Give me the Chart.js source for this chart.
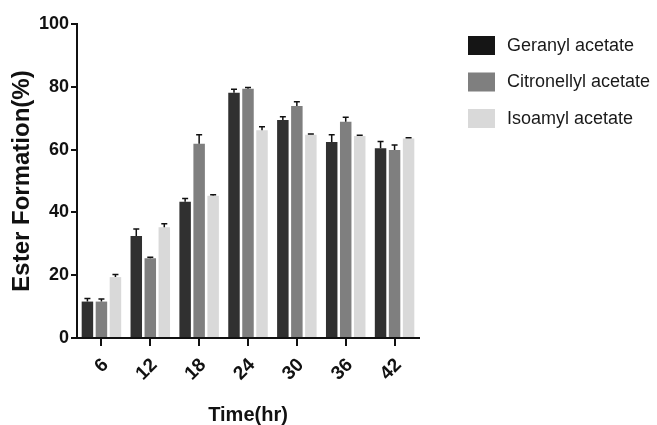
<!DOCTYPE html>
<html>
<head>
<meta charset="utf-8">
<script src="https://cdn.jsdelivr.net/npm/chart.js@4/dist/chart.umd.min.js"></script>
<style>
  html, body { margin: 0; padding: 0; background: #fff; }
  #wrap { width: 657px; height: 425px; position: relative; }
</style>
</head>
<body>
<div id="wrap"><canvas id="grafico"></canvas></div>
<script>
// dados
const tempos = ["6", "12", "18", "24", "30", "36", "42"]
const nomesSeries = ["Geranyl acetate", "Citronellyl acetate", "Isoamyl acetate"]
const geranil = [11.6, 32.5, 43.4, 78.1, 69.4, 62.4, 60.4]
const citronelil = [11.6, 25.4, 61.9, 79.4, 73.9, 68.9, 59.9]
const isoamil = [19.4, 35.3, 45.3, 66.2, 64.7, 64.3, 63.5]
const erroGeranil = [1.0, 2.2, 1.0, 1.1, 1.1, 2.3, 2.2]
const erroCitronelil = [0.8, 0.3, 2.8, 0.4, 1.3, 1.4, 1.6]
const erroIsoamil = [0.8, 1.1, 0.3, 1.1, 0.3, 0.3, 0.3]
const ticksY = [0, 20, 40, 60, 80, 100]

const cores = ["#303030", "#7f7f7f", "#d9d9d9"]
const coresLegenda = ["#151515", "#7f7f7f", "#d9d9d9"]
const erros = [erroGeranil, erroCitronelil, erroIsoamil]

const fonteNarrow = "'Liberation Sans Narrow', 'Liberation Sans', Arial, sans-serif"
const fonteNormal = "'Liberation Sans', Arial, sans-serif"

const pluginBarrasErro = {
  id: "barrasErro",
  afterDatasetsDraw(chart) {
    const ctx = chart.ctx
    const escalaY = chart.scales.y
    ctx.save()
    ctx.strokeStyle = "#111"
    ctx.lineWidth = 1.5
    chart.data.datasets.forEach((ds, i) => {
      const meta = chart.getDatasetMeta(i)
      meta.data.forEach((barra, j) => {
        const topo = escalaY.getPixelForValue(ds.data[j])
        const fim = escalaY.getPixelForValue(ds.data[j] + erros[i][j])
        ctx.beginPath()
        ctx.moveTo(barra.x, topo)
        ctx.lineTo(barra.x, fim)
        ctx.moveTo(barra.x - 3, fim)
        ctx.lineTo(barra.x + 3, fim)
        ctx.stroke()
      })
    })
    ctx.restore()
  },
}

const pluginLegenda = {
  id: "legendaManual",
  afterDraw(chart) {
    const ctx = chart.ctx
    ctx.save()
    ctx.font = "18px " + fonteNormal
    ctx.textBaseline = "middle"
    ctx.textAlign = "left"
    nomesSeries.forEach((nome, i) => {
      const yc = 45 + i * 36.5
      ctx.fillStyle = coresLegenda[i]
      ctx.fillRect(468, yc - 9, 27, 19)
      ctx.fillStyle = "#1a1a1a"
      ctx.fillText(nome, 507, yc + 1)
    })
    ctx.restore()
  },
}

const ctx = document.getElementById("grafico").getContext("2d")
new Chart(ctx, {
  type: "bar",
  data: {
    labels: tempos,
    datasets: [
      { label: nomesSeries[0], data: geranil, backgroundColor: cores[0] },
      { label: nomesSeries[1], data: citronelil, backgroundColor: cores[1] },
      { label: nomesSeries[2], data: isoamil, backgroundColor: cores[2] },
    ],
  },
  options: {
    responsive: true,
    maintainAspectRatio: false,
    animation: false,
    categoryPercentage: 0.86,
    barPercentage: 0.82,
    layout: { padding: { top: 24, right: 238, left: 0, bottom: 0 } },
    plugins: {
      legend: { display: false },
      tooltip: { enabled: false },
    },
    scales: {
      x: {
        grid: { display: true, offset: false, drawOnChartArea: false, drawTicks: true, tickLength: 8, color: "#111", lineWidth: 2 },
        border: { display: true, color: "#111", width: 2 },
        ticks: {
          color: "#111",
          minRotation: 45,
          maxRotation: 45,
          padding: 8,
          labelOffset: 4,
          font: { family: fonteNarrow, size: 19, weight: "bold" },
        },
        title: {
          display: true,
          text: "Time(hr)",
          color: "#111",
          padding: 0,
          font: { family: fonteNarrow, size: 20, weight: "bold", lineHeight: 1 },
        },
        afterFit(escala) {
          escala.height = 87
        },
      },
      y: {
        min: 0,
        max: 100,
        afterBuildTicks(escala) {
          escala.ticks = ticksY.map((v) => ({ value: v }))
        },
        grid: { display: true, drawOnChartArea: false, drawTicks: true, tickLength: 6, color: "#111", lineWidth: 2 },
        border: { display: true, color: "#111", width: 2 },
        ticks: {
          color: "#111",
          padding: 2,
          font: { family: fonteNarrow, size: 18, weight: "bold" },
        },
        title: {
          display: true,
          text: "Ester Formation(%)",
          color: "#111",
          padding: { top: 10, bottom: 0 },
          font: { family: fonteNormal, size: 24, weight: "bold", lineHeight: 1 },
        },
        afterFit(escala) {
          escala.width = 77
        },
      },
    },
  },
  plugins: [pluginBarrasErro, pluginLegenda],
})
</script>
</body>
</html>
